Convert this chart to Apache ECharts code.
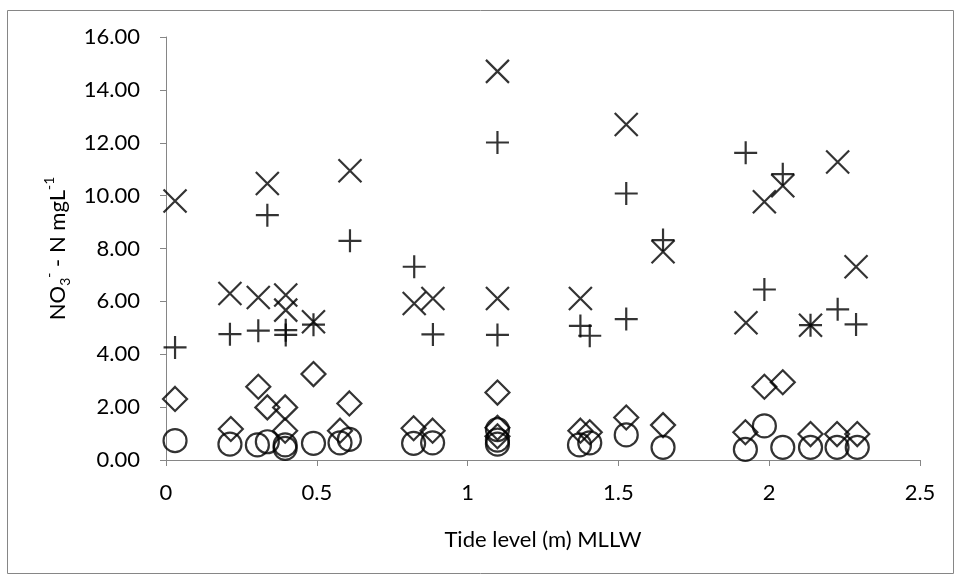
<!DOCTYPE html>
<html>
<head>
<meta charset="utf-8">
<script src="https://cdn.jsdelivr.net/npm/echarts@6.0.0/dist/echarts.min.js"></script>
<style>
html,body{margin:0;padding:0;background:#fff;}
#chart{width:956px;height:577px;}
</style>
</head>
<body>
<div id="chart"></div>
<script>
// Series values
var crossX = [0.03, 0.212, 0.306, 0.336, 0.397, 0.397, 0.489, 0.61, 0.823, 0.885, 1.099, 1.099, 1.374, 1.526, 1.648, 1.923, 1.984, 2.045, 2.137, 2.227, 2.288];
var crossY = [9.80, 6.30, 6.15, 10.46, 6.24, 5.67, 5.23, 10.94, 5.92, 6.11, 14.70, 6.11, 6.11, 12.69, 7.88, 5.19, 9.77, 10.37, 5.10, 11.27, 7.31];

var plusX = [0.03, 0.212, 0.306, 0.336, 0.397, 0.397, 0.489, 0.61, 0.823, 0.885, 1.099, 1.099, 1.374, 1.405, 1.526, 1.526, 1.648, 1.922, 1.984, 2.045, 2.137, 2.227, 2.288];
var plusY = [4.26, 4.76, 4.89, 9.26, 4.91, 4.73, 5.12, 8.29, 7.31, 4.75, 12.01, 4.73, 5.07, 4.70, 10.08, 5.33, 8.32, 11.62, 6.45, 10.81, 5.10, 5.70, 5.13];

var diamondX = [0.03, 0.215, 0.306, 0.336, 0.395, 0.395, 0.489, 0.577, 0.608, 0.821, 0.884, 1.099, 1.099, 1.099, 1.374, 1.405, 1.526, 1.648, 1.921, 1.984, 2.045, 2.137, 2.225, 2.292];
var diamondY = [2.31, 1.17, 2.77, 1.99, 1.99, 1.11, 3.25, 1.11, 2.14, 1.20, 1.11, 2.55, 1.22, 0.90, 1.11, 1.05, 1.61, 1.32, 1.05, 2.77, 2.94, 0.98, 0.98, 0.98];

var circleX = [0.03, 0.212, 0.303, 0.336, 0.395, 0.395, 0.489, 0.577, 0.608, 0.821, 0.884, 1.099, 1.099, 1.099, 1.371, 1.405, 1.526, 1.648, 1.921, 1.984, 2.045, 2.137, 2.225, 2.292];
var circleY = [0.73, 0.60, 0.57, 0.69, 0.57, 0.44, 0.63, 0.65, 0.78, 0.63, 0.65, 1.15, 0.75, 0.60, 0.57, 0.65, 0.95, 0.48, 0.40, 1.29, 0.48, 0.48, 0.48, 0.48];

// Axis settings
var xMin = 0, xMax = 2.5, xStep = 0.5;
var yMin = 0, yMax = 16, yStep = 2;
var xTitle = 'Tide level (m) MLLW';

function pairs(xs, ys) { return xs.map(function (x, i) { return [x, ys[i]]; }); }

var FONT = 'Lato';
var hollow = { color: 'rgba(0,0,0,0)', borderColor: '#000', borderWidth: 2.2 };

var chart = echarts.init(document.getElementById('chart'), null, { renderer: 'canvas' });
chart.setOption({
  backgroundColor: '#fff',
  animation: false,
  textStyle: { fontFamily: FONT },
  graphic: [{
    type: 'rect', left: 5, top: 8, silent: true,
    shape: { width: 946, height: 563 },
    style: { fill: 'none', stroke: '#868686', lineWidth: 1 }
  }],
  grid: { left: 166, right: 36, top: 37, bottom: 117, containLabel: false },
  xAxis: {
    type: 'value', min: xMin, max: xMax, interval: xStep,
    name: xTitle, nameLocation: 'middle', nameGap: 69,
    nameTextStyle: { fontFamily: FONT, fontSize: 22, color: '#000' },
    axisLine: { show: true, onZero: false, lineStyle: { color: '#868686', width: 1 } },
    axisTick: { show: true, length: 6, lineStyle: { color: '#868686' } },
    splitLine: { show: false },
    axisLabel: { fontFamily: FONT, fontSize: 22, color: '#000', margin: 22 }
  },
  yAxis: {
    type: 'value', min: yMin, max: yMax, interval: yStep,
    name: '{n|NO}{sub|3}{sup|-}{n| - N mgL}{sup|-1}',
    nameLocation: 'middle', nameGap: 93, nameRotate: 90,
    nameTextStyle: {
      fontFamily: FONT, fontSize: 22, color: '#000',
      rich: {
        n: { fontFamily: FONT, fontSize: 22, color: '#000', lineHeight: 30 },
        sub: { fontFamily: FONT, fontSize: 14, color: '#000', verticalAlign: 'bottom', lineHeight: 30 },
        sup: { fontFamily: FONT, fontSize: 14, color: '#000', verticalAlign: 'top', lineHeight: 30 }
      }
    },
    axisLine: { show: true, lineStyle: { color: '#868686', width: 1 } },
    axisTick: { show: true, length: 6, lineStyle: { color: '#868686' } },
    splitLine: { show: false },
    axisLabel: {
      fontFamily: FONT, fontSize: 22, color: '#000', margin: 26,
      formatter: function (v) { return v.toFixed(2); }
    }
  },
  series: [
    { type: 'scatter', data: pairs(circleX, circleY), symbol: 'circle', symbolSize: 23, itemStyle: hollow },
    { type: 'scatter', data: pairs(diamondX, diamondY), symbol: 'diamond', symbolSize: 24, itemStyle: hollow },
    { type: 'scatter', data: pairs(plusX, plusY), symbol: 'path://M5,0L5,10M0,5L10,5', symbolSize: 23, itemStyle: hollow },
    { type: 'scatter', data: pairs(crossX, crossY), symbol: 'path://M0,0L10,10M10,0L0,10', symbolSize: 23, itemStyle: hollow }
  ]
});
</script>
</body>
</html>
